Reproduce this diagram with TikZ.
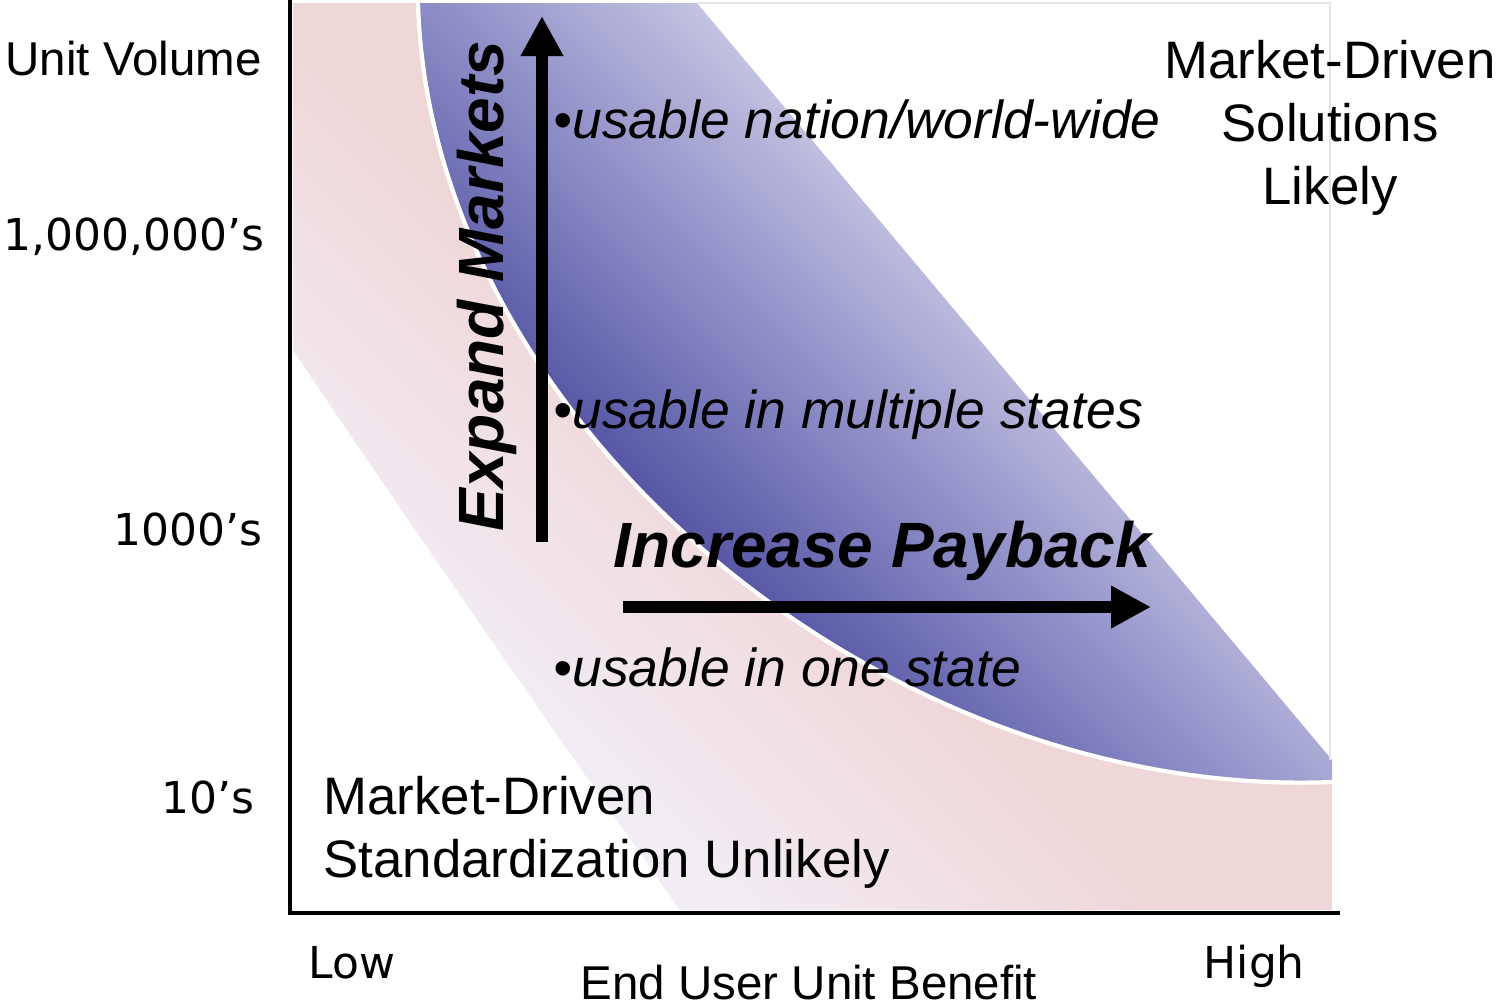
\documentclass[tikz,border=0pt]{standalone}
\usepackage{fontspec}
\setmainfont{Liberation Sans}
\newfontfamily\tickfont{DejaVu Sans}
\usetikzlibrary{arrows.meta}

\definecolor{bandblueD}{RGB}{88,88,166}
\definecolor{bandblueM}{RGB}{140,140,198}
\definecolor{bandblueL}{RGB}{196,196,226}
\definecolor{bandpinkL}{RGB}{242,236,244}
\definecolor{bandpinkD}{RGB}{239,214,215}

\pgfdeclareverticalshading{bluefade}{100bp}{color(0bp)=(bandblueD); color(38.6bp)=(bandblueD); color(47.8bp)=(bandblueM); color(57.7bp)=(bandblueL); color(100bp)=(bandblueL)}
\pgfdeclareverticalshading{pinkfade}{100bp}{color(0bp)=(bandpinkL); color(33bp)=(bandpinkL); color(47bp)=(bandpinkD); color(100bp)=(bandpinkD)}

\tikzset{
  axisline/.style={line width=1.4pt},
  ticklabel/.style={font=\tickfont\fontsize{12.5}{15}\selectfont, inner sep=0pt},
  axislabel/.style={font=\fontsize{13.5}{16}\selectfont, inner sep=0pt},
  regionlabel/.style={font=\fontsize{15}{17.9}\selectfont, inner sep=0pt},
  useitem/.style={font=\itshape\fontsize{15.2}{18}\selectfont, inner sep=0pt, anchor=base west},
  trendlabel/.style={font=\bfseries\itshape\fontsize{18.2}{21}\selectfont, inner sep=0pt, anchor=base west},
  trendarrow/.style={line width=3.4pt, -{Triangle[length=0.4cm,width=0.4cm]}},
}

\begin{document}
\begin{tikzpicture}[x=0.01cm, y=-0.01cm]
	\useasboundingbox (0,0) rectangle (1501,1005);
	
	% pink band
	\begin{scope}
		\clip (293,3) -- (293,350) .. controls (400,510) and (560,740) .. (680,910) -- (1332,910) -- (1332,782) .. controls (880,800) and (430,420) .. (418,3) -- cycle;
		\shade[shading=pinkfade, shading angle=-45] (261,-94) rectangle (1361,1006);
	\end{scope}
	
	% blue band
	\begin{scope}
		\clip (418,3) .. controls (430,420) and (880,800) .. (1332,782) -- (1332,760) -- (697,3) -- cycle;
		\shade[shading=bluefade, shading angle=-45] (374,-108) rectangle (1374,892);
	\end{scope}
	\draw[white, line width=1.2pt] (418,3) .. controls (430,420) and (880,800) .. (1332,782);
	\draw[black!10, line width=0.4pt] (697,3) -- (1330,3) -- (1330,760);
	
	% axes
	\draw[axisline] (290,0) -- (290,913) -- (1340,913);
	
	\node[axislabel, anchor=base west] (volume) at (5,75) {Unit Volume};
	\node[ticklabel, anchor=base east] (millions) at (265,250) {1,000,000’s};
	\node[ticklabel, anchor=base east] (thousands) at (263,545) {1000’s};
	\node[ticklabel, anchor=base east] (tens) at (255,813) {10’s};
	\node[ticklabel, anchor=base west] (low) at (308,978) {Low};
	\node[ticklabel, anchor=base west] (high) at (1203,978) {High};
	\node[axislabel, anchor=base west] (benefit) at (580,999) {End User Unit Benefit};
	
	\node[regionlabel, align=center, anchor=north] (likely) at (1330,40) {Market-Driven\\Solutions\\Likely};
	\node[regionlabel, align=left, anchor=north west] (unlikely) at (323,776) {Market-Driven\\Standardization Unlikely};
	
	\node[useitem] (worldwide) at (553,138) {•usable nation/world-wide};
	\node[useitem] (multistate) at (553,428) {•usable in multiple states};
	\node[useitem] (onestate) at (553,686) {•usable in one state};
	
	\node[trendlabel] (payback) at (613,567) {Increase Payback};
	\node[trendlabel, rotate=90] (expand) at (503,532) {Expand Markets};
	
	\coordinate (expandfoot) at (542,542);
	\coordinate (expandtip) at (542,16);
	\draw[trendarrow] (expandfoot) -- (expandtip);
	\coordinate (paybackfoot) at (623,607);
	\coordinate (paybacktip) at (1151,607);
	\draw[trendarrow] (paybackfoot) -- (paybacktip);
\end{tikzpicture}
\end{document}
